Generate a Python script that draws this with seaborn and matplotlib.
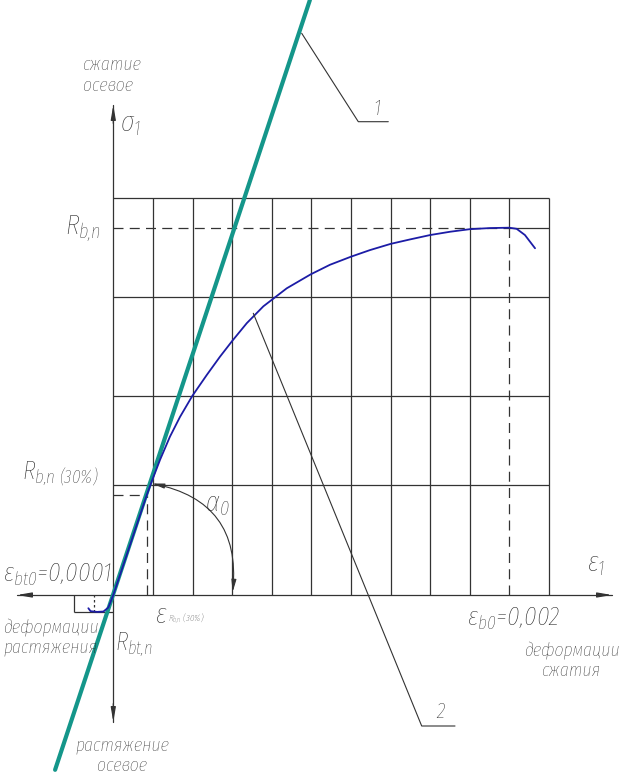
import seaborn as sns
import matplotlib.pyplot as plt
import pandas as pd

# Concrete stress-strain diagram: strain eps1 vs relative stress sigma1 / Rb,n
# curve 2 (real diagram), read from the drawing
curve_eps = [-0.000126, -0.000115, -0.000082, -0.000050, -0.000025, 0.0,
             0.000169, 0.000194, 0.000236, 0.000286, 0.000337, 0.000399,
             0.000472, 0.000539, 0.000601, 0.000674, 0.000758, 0.000876,
             0.000997, 0.001094, 0.001200, 0.001296, 0.001401, 0.001498,
             0.001600, 0.001701, 0.001801, 0.001903, 0.002000, 0.002037,
             0.002079, 0.002130]
curve_sig = [-0.036, -0.044, -0.046, -0.045, -0.034, 0.0,
             0.272, 0.309, 0.368, 0.431, 0.485, 0.542,
             0.599, 0.649, 0.692, 0.740, 0.786, 0.835,
             0.873, 0.899, 0.921, 0.939, 0.956, 0.968,
             0.980, 0.989, 0.996, 0.999, 1.000, 0.997,
             0.980, 0.944]

# line 1 (elastic, tangent at origin)
elastic_eps = [-0.000294, 0.000993]
elastic_sig = [-0.476, 1.620]

# grid of the drawing
grid_eps = [0.0002, 0.0004, 0.0006, 0.0008, 0.0010, 0.0012,
            0.0014, 0.0016, 0.0018, 0.0020, 0.0022]
grid_sig = [0.300, 0.542, 0.811, 1.080]

# characteristic points
Rb = 1.0
eps_b0 = 0.002
eps_bt0 = -0.0001
eps_30 = 0.000169
sig_30 = 0.272
Rbt = -0.0455
eps_box = -0.0002

# pixel -> data helper (drawing was made in pixels, 39.6 px per grid step)
X0, Y0 = 113.3, 595.0
EPS_PX = 0.0002 / 39.6
RB_PX = 367.3


def px(x, y):
    return (x - X0) * EPS_PX, (Y0 - y) / RB_PX


sns.set_theme(style="white")
FONT = "Fira Sans Extra Condensed"
plt.rcParams["font.family"] = [FONT, "DejaVu Sans"]
plt.rcParams["font.style"] = "italic"
plt.rcParams["font.weight"] = "light"
plt.rcParams["mathtext.fontset"] = "custom"
plt.rcParams["mathtext.it"] = FONT + ":italic:light"
plt.rcParams["mathtext.rm"] = FONT + ":italic:light"
plt.rcParams["mathtext.default"] = "it"

ink = "#333333"
txt = "#262626"
teal = "#14968a"
blue = "#1c1ca6"

fig = plt.figure(figsize=(6.23, 7.79), dpi=100)
ax = fig.add_axes([0, 0, 1, 1])
ax.set_xlim(px(0, 0)[0], px(623, 0)[0])
ax.set_ylim(px(0, 779)[1], px(0, 0)[1])
ax.axis("off")

top = grid_sig[-1]
right = grid_eps[-1]

# grid
for e in grid_eps:
    if e == eps_b0:
        ax.vlines(e, Rb, top, color=ink, lw=0.9)
    else:
        ax.vlines(e, 0, top, color=ink, lw=0.9)
ax.hlines(grid_sig, 0, right, color=ink, lw=0.9)
ax.hlines(Rb, eps_b0, right, color=ink, lw=0.9)

# dashed construction lines
dash = (0, (8, 5))
ax.hlines(Rb, 0, eps_b0, color=ink, lw=0.9, linestyles=[dash])
ax.vlines(eps_b0, 0, Rb, color=ink, lw=0.9, linestyles=[dash])
ax.hlines(sig_30, 0, eps_30, color=ink, lw=0.9, linestyles=[dash])
ax.vlines(eps_30, 0, sig_30, color=ink, lw=0.9, linestyles=[dash])
ax.vlines(eps_bt0, Rbt, 0, color=ink, lw=0.9, linestyles=[(0, (2, 2))])
ax.vlines(eps_box, Rbt, 0, color=ink, lw=0.9)
ax.hlines(Rbt, eps_box, 0, color=ink, lw=0.9)

# axes with arrows
s_bot, s_top = px(0, 722)[1], px(0, 105)[1]
e_left, e_right = px(17, 0)[0], px(612, 0)[0]
ax.plot([0, 0], [s_bot, s_top], color=ink, lw=0.9)
ax.plot([e_left, e_right], [0, 0], color=ink, lw=0.9)
head = dict(arrowstyle="-|>,head_length=0.7,head_width=0.12", color=ink, lw=0.9,
            shrinkA=0, shrinkB=0)
ax.annotate("", xy=(0, s_top), xytext=(0, s_top - 0.05), arrowprops=head)
ax.annotate("", xy=(0, s_bot), xytext=(0, s_bot + 0.05), arrowprops=head)
ax.annotate("", xy=(e_left, 0), xytext=(e_left + 0.00005, 0), arrowprops=head)
ax.annotate("", xy=(e_right, 0), xytext=(e_right - 0.00005, 0), arrowprops=head)

# curves
elastic = pd.DataFrame({"eps": elastic_eps, "sig": elastic_sig})
diagram = pd.DataFrame({"eps": curve_eps, "sig": curve_sig})
sns.lineplot(data=elastic, x="eps", y="sig", color=teal, lw=3.0, sort=False, ax=ax)
sns.lineplot(data=diagram, x="eps", y="sig", color=blue, lw=1.3, sort=False, ax=ax)

# angle alpha0
ax.annotate("", xy=px(232.7, 592), xytext=px(152, 483.5),
            arrowprops=dict(arrowstyle="<|-|>,head_length=0.6,head_width=0.12",
                            connectionstyle="arc3,rad=-0.45", color=ink, lw=0.8,
                            shrinkA=0, shrinkB=0))

# leaders
l1 = [px(301.7, 33.3), px(358.3, 121.7), px(388.3, 121.7)]
l2 = [px(253.3, 313.3), px(421.7, 726), px(455, 726)]
for pts in (l1, l2):
    ax.plot([p[0] for p in pts], [p[1] for p in pts], color=ink, lw=0.8)

# labels
big = 20.5
num = 19.5
ru = 14
kw = dict(color=txt, style="italic", weight="light")
ax.text(*px(83, 75), "сжатие\nосевое", fontsize=ru, ha="left", va="center",
        linespacing=1.2, **kw)
ax.text(*px(120, 131), r"$σ_1$", fontsize=big, ha="left", va="baseline", **kw)
ax.text(*px(101, 234), r"$R_{b{,}n}$", fontsize=big, ha="right", va="baseline", **kw)
ax.text(*px(22, 479), r"$R_{b{,}n\ (30\%)}$", fontsize=19, ha="left", va="baseline", **kw)
ax.text(*px(3, 582), r"$ε_{bt0}$=0,0001", fontsize=num, ha="left", va="baseline", **kw)
ax.text(*px(3, 637), "деформации\nрастяжения", fontsize=ru, ha="left", va="center",
        linespacing=1.2, **kw)
ax.text(*px(115, 651), r"$R_{bt{,}n}$", fontsize=18.5, ha="left", va="baseline", **kw)
ax.text(*px(155, 623), r"$ε$", fontsize=big, ha="left", va="baseline", **kw)
ax.text(*px(168, 621), r"$R_{b{,}n}$ (30%)", fontsize=7, ha="left", va="baseline", **kw)
ax.text(*px(205, 511), r"$α_0$", fontsize=big, ha="left", va="baseline", **kw)
ax.text(*px(587, 572), r"$ε_1$", fontsize=big, ha="left", va="baseline", **kw)
ax.text(*px(467, 626), r"$ε_{b0}$=0,002", fontsize=num, ha="left", va="baseline", **kw)
ax.text(*px(572, 660), "деформации\nсжатия", fontsize=ru, ha="center", va="center",
        multialignment="center", linespacing=1.2, **kw)
ax.text(*px(122, 755), "растяжение\nосевое", fontsize=ru, ha="center", va="center",
        multialignment="center", linespacing=1.2, **kw)
ax.text(*px(373, 115), "1", fontsize=16, ha="left", va="baseline", **kw)
ax.text(*px(436, 718), "2", fontsize=16, ha="left", va="baseline", **kw)

fig.savefig("out.png", dpi=100, facecolor="white")
